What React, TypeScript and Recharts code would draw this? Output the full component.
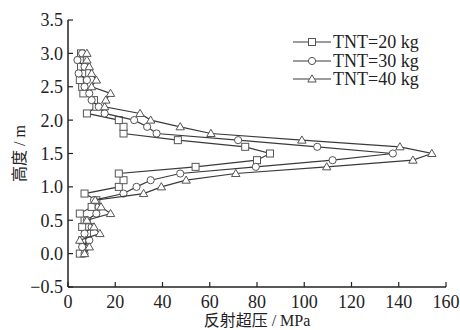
import React from 'react';
import { ScatterChart, Scatter, XAxis, YAxis, Legend } from 'recharts';

const heights = [0, 0.1, 0.2, 0.3, 0.4, 0.5, 0.6, 0.7, 0.8, 0.9, 1.0, 1.1, 1.2, 1.3, 1.4, 1.5, 1.6, 1.7, 1.8, 1.9, 2.0, 2.1, 2.2, 2.3, 2.4, 2.5, 2.6, 2.7, 2.8, 2.9, 3.0];
const tnt20 = [5, 7, 6, 8, 6, 7, 5, 10, 12, 7, 21.5, 23.5, 21.5, 54, 80, 85.5, 75, 46.5, 23.5, 23.5, 21.5, 8, 12, 11, 6.5, 6, 5, 6, 5.5, 5, 5.5];
const tnt30 = [7, 6, 9, 7, 10, 8, 12, 13, 11, 23.5, 29, 35, 47.5, 79.5, 112, 137.5, 105.5, 72, 37.5, 33.5, 28, 15.5, 13, 10, 9, 7, 8, 4.5, 7, 4, 6];
const tnt40 = [7, 9, 5, 13.5, 11, 8, 18, 14, 11.5, 32, 39.5, 50, 71, 109.5, 146, 154, 140.5, 99, 60.5, 47.5, 35, 30.5, 15.5, 16, 18, 10, 12, 10, 9, 8, 8];
const seriesNames = ['TNT=20 kg', 'TNT=30 kg', 'TNT=40 kg'];
const xTicks = [0, 20, 40, 60, 80, 100, 120, 140, 160];
const yTicks = [-0.5, 0, 0.5, 1.0, 1.5, 2.0, 2.5, 3.0, 3.5];

const toPoints = (vals: number[]) => vals.map((p, i) => ({ p, h: heights[i] }));
const d20 = toPoints(tnt20);
const d30 = toPoints(tnt30);
const d40 = toPoints(tnt40);

const MARK = '#555';
const LINE = '#3a3a3a';
const FONT = "'Liberation Serif', 'Noto Sans CJK SC', serif";

const Square = (props: any) => {
  const { cx, cy } = props;
  if (cx == null || cy == null) return null;
  return <rect x={cx - 3.5} y={cy - 3.5} width={7} height={7} fill="#fff" stroke={MARK} strokeWidth={1} />;
};
const Circle = (props: any) => {
  const { cx, cy } = props;
  if (cx == null || cy == null) return null;
  return <circle cx={cx} cy={cy} r={3.6} fill="#fff" stroke={MARK} strokeWidth={1} />;
};
const Triangle = (props: any) => {
  const { cx, cy } = props;
  if (cx == null || cy == null) return null;
  return <polygon points={`${cx},${cy - 4.2} ${cx + 4.2},${cy + 3} ${cx - 4.2},${cy + 3}`} fill="#fff" stroke={MARK} strokeWidth={1} />;
};

const markerFor = (i: number, cx: number, cy: number) => {
  if (i === 0) return <Square cx={cx} cy={cy} />;
  if (i === 1) return <Circle cx={cx} cy={cy} />;
  return <Triangle cx={cx} cy={cy} />;
};

const LegendContent = () => (
  <div style={{ fontFamily: FONT, fontSize: 18, color: '#222' }}>
    {seriesNames.map((n, i) => (
      <div key={n} style={{ display: 'flex', alignItems: 'center', height: 18.5 }}>
        <svg width={40} height={12} style={{ display: 'block' }}>
          <line x1={0} y1={6} x2={38} y2={6} stroke={LINE} strokeWidth={1.2} />
          {markerFor(i, 19, 6)}
        </svg>
        <span style={{ lineHeight: '18px' }}>{n}</span>
      </div>
    ))}
  </div>
);

const YLabel = (props: any) => {
  const vb = props.viewBox || {};
  const cy = (vb.y ?? 20) + (vb.height ?? 267) / 2;
  const x = 19;
  return (
    <text x={x} y={cy} transform={`rotate(-90, ${x}, ${cy})`} textAnchor="middle" dominantBaseline="central" fontSize={16} fill="#222" fontFamily={FONT}>
      高度 / m
    </text>
  );
};

const XLabel = (props: any) => {
  const vb = props.viewBox || {};
  const cx = (vb.x ?? 68) + (vb.width ?? 378) / 2;
  return (
    <text x={cx} y={320} textAnchor="middle" dominantBaseline="central" fontSize={16} fill="#222" fontFamily={FONT}>
      反射超压 / MPa
    </text>
  );
};

const fmtY = (v: number) => (v < 0 ? '\u2212' + Math.abs(v).toFixed(1) : v.toFixed(1));

export default function App() {
  return (
    <div style={{ width: 460, height: 330 }}>
      <style>{`body{margin:0 !important;} .recharts-surface{overflow:visible !important;}`}</style>
      <ScatterChart width={460} height={330} margin={{ top: 20, right: 14, bottom: 0, left: 0 }}>
        <XAxis
          xAxisId="b"
          dataKey="p"
          type="number"
          domain={[0, 160]}
          ticks={xTicks}
          tickSize={-5}
          tickMargin={13}
          height={43}
          axisLine={{ stroke: '#222', strokeWidth: 1.5 }}
          tickLine={{ stroke: '#222', strokeWidth: 1.2 }}
          tick={{ fontSize: 18, fill: '#222', fontFamily: FONT }}
          label={<XLabel />}
        />
        <XAxis xAxisId="t" orientation="top" type="number" domain={[0, 160]} height={0} tick={false} tickLine={false} axisLine={{ stroke: '#222', strokeWidth: 1.5 }} />
        <YAxis
          yAxisId="l"
          dataKey="h"
          type="number"
          domain={[-0.5, 3.5]}
          ticks={yTicks}
          tickFormatter={fmtY}
          tickSize={-5}
          tickMargin={10}
          width={68}
          axisLine={{ stroke: '#222', strokeWidth: 1.5 }}
          tickLine={{ stroke: '#222', strokeWidth: 1.2 }}
          tick={{ fontSize: 18, fill: '#222', fontFamily: FONT }}
          label={<YLabel />}
        />
        <YAxis yAxisId="r" orientation="right" type="number" domain={[-0.5, 3.5]} width={0} tick={false} tickLine={false} axisLine={{ stroke: '#222', strokeWidth: 1.5 }} />
        <Legend layout="horizontal" verticalAlign="middle" align="center" content={LegendContent} wrapperStyle={{ position: 'absolute', top: 33, left: 293, width: 160 }} />
        <Scatter xAxisId="b" yAxisId="l" name={seriesNames[0]} data={d20} line={{ stroke: LINE, strokeWidth: 1.2 }} lineType="joint" shape={Square} isAnimationActive={false} />
        <Scatter xAxisId="b" yAxisId="l" name={seriesNames[1]} data={d30} line={{ stroke: LINE, strokeWidth: 1.2 }} lineType="joint" shape={Circle} isAnimationActive={false} />
        <Scatter xAxisId="b" yAxisId="l" name={seriesNames[2]} data={d40} line={{ stroke: LINE, strokeWidth: 1.2 }} lineType="joint" shape={Triangle} isAnimationActive={false} />
      </ScatterChart>
    </div>
  );
}
